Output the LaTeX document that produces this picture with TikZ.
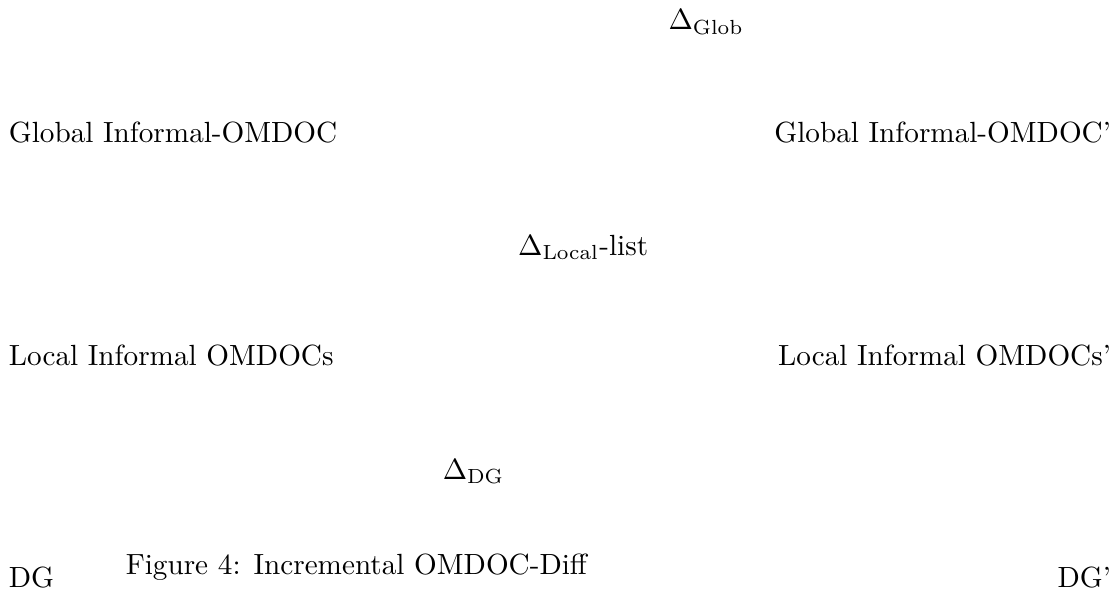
\documentclass[tikz,border=0pt]{standalone}
\usepackage{amsmath,amssymb}
\usepackage{tikz}
\usetikzlibrary{positioning}

\begin{document}
\begin{tikzpicture}[
    doc/.style={inner sep=0pt, font=\normalsize},
    delta/.style={inner sep=0pt, anchor=base, font=\normalsize}
]
    \useasboundingbox (0,0) rectangle (13.41,7.13);

    % Left column
    \node[doc, anchor=base west] (glob) at (0.1,5.41) {Global Informal-OMDOC};
    \node[doc, anchor=base west] (local) at (0.1,2.73) {Local Informal OMDOCs};
    \node[doc, anchor=base west] (dg) at (0.1,0.06) {DG};

    % Right column
    \node[doc, anchor=base east] (globp) at (13.38,5.41) {Global Informal-OMDOC'};
    \node[doc, anchor=base east] (localp) at (13.38,2.73) {Local Informal OMDOCs'};
    \node[doc, anchor=base east] (dgp) at (13.38,0.06) {DG'};

    % Differences
    \node[delta] (dglob) at (8.50,6.77) {$\Delta_{\text{Glob}}$};
    \node[delta] (dlocal) at (7.02,4.06) {$\Delta_{\text{Local}}$-list};
    \node[delta] (ddg) at (5.70,1.36) {$\Delta_{\text{DG}}$};

    % Caption
    \node[doc, anchor=base] (cap) at (4.29,0.21) {Figure 4: Incremental OMDOC-Diff};
\end{tikzpicture}
\end{document}
